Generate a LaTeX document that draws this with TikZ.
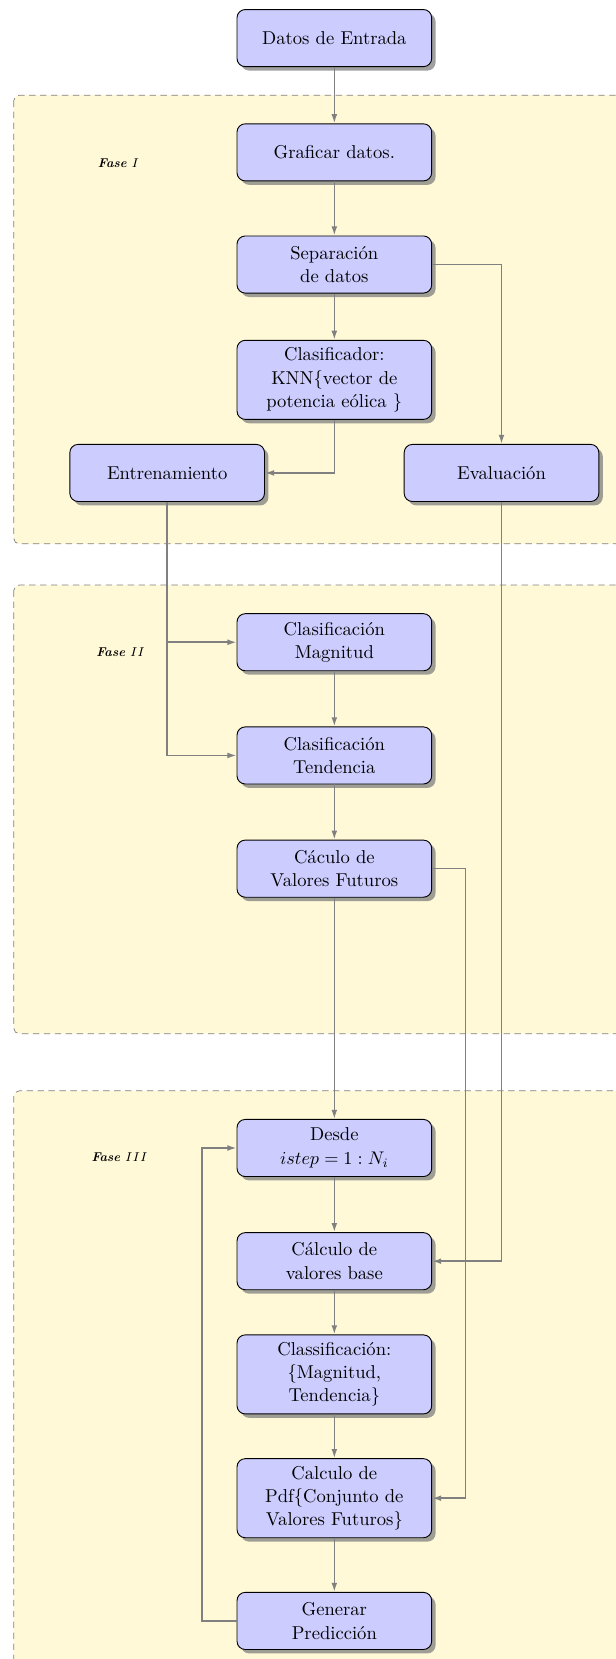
\documentclass[tikz,border=0pt]{standalone}
\usetikzlibrary{shadows,arrows.meta}
\definecolor{panelfill}{RGB}{255,249,215}
\begin{document}
\begin{tikzpicture}[x=0.58pt,y=-0.58pt,
  blockbox/.style={draw=black, line width=0.5pt, fill=blue!20, rounded corners=4.5pt,
    minimum width=106.7pt, minimum height=31.3pt, align=center, inner ysep=4pt,
    drop shadow={opacity=0.75, fill=black!50}, font=\fontsize{10.2}{12.8}\selectfont},
  conn/.style={draw=black!50, line width=0.9pt, -{Latex[length=5pt,width=3.2pt]}},
  panel/.style={draw=black!50, dash pattern=on 3.5pt off 2.5pt, fill=panelfill, rounded corners=3pt},
  faselabel/.style={font=\scriptsize}]
\clip (0,0) rectangle (582,1568);
% panels
\draw[panel] (13,90) rectangle (640,514);
\draw[panel] (13,553) rectangle (640,977);
\draw[panel] (13,1031) rectangle (640,1640);
\node[faselabel] (f1) at (112,154) {\textbf{\textit{Fase}}~$I$};
\node[faselabel] (f2) at (114,616) {\textbf{\textit{Fase}}~$II$};
\node[faselabel] (f3) at (113,1094) {\textbf{\textit{Fase}}~$III$};
% nodes
\node[blockbox] (datos) at (316,36) {Datos de Entrada};
\node[blockbox] (graf) at (316,144) {Graficar datos.};
\node[blockbox] (sep) at (316,250) {Separación\\de datos};
\node[blockbox] (clas) at (316,359) {Clasificador:\\KNN\{vector de\\potencia eólica \}};
\node[blockbox] (entr) at (158,447) {Entrenamiento};
\node[blockbox] (eval) at (474,447) {Evaluación};
\node[blockbox] (mag) at (316,607) {Clasificación\\Magnitud};
\node[blockbox] (tend) at (316,714) {Clasificación\\Tendencia};
\node[blockbox] (cac) at (316,821) {Cáculo de\\Valores Futuros};
\node[blockbox] (desde) at (316,1085) {Desde\\$istep = 1 : N_i$};
\node[blockbox] (base) at (316,1192) {Cálculo de\\valores base};
\node[blockbox] (clss) at (316,1299) {Classificación:\\\{Magnitud,\\Tendencia\}};
\node[blockbox] (pdf) at (316,1416) {Calculo de\\Pdf\{Conjunto de\\Valores Futuros\}};
\node[blockbox] (gen) at (316,1532) {Generar\\Predicción};
\coordinate (c1) at (440,821);
\coordinate (g1) at (191,1532);
% connectors
\draw[conn] (datos) -- (graf);
\draw[conn] (graf) -- (sep);
\draw[conn] (sep) -- (clas);
\draw[conn] (sep.east) -| (eval.north);
\draw[conn] (clas.south) |- (entr.east);
\draw[conn] (entr.south) |- (mag.west);
\draw[conn] (entr.south) |- (tend.west);
\draw[conn] (mag) -- (tend);
\draw[conn] (tend) -- (cac);
\draw[conn] (cac) -- (desde);
\draw[conn] (cac.east) -- (c1) |- (pdf.east);
\draw[conn] (eval.south) |- (base.east);
\draw[conn] (desde) -- (base);
\draw[conn] (base) -- (clss);
\draw[conn] (clss) -- (pdf);
\draw[conn] (pdf) -- (gen);
\draw[conn] (gen.west) -- (g1) |- (desde.west);
\end{tikzpicture}
\end{document}
